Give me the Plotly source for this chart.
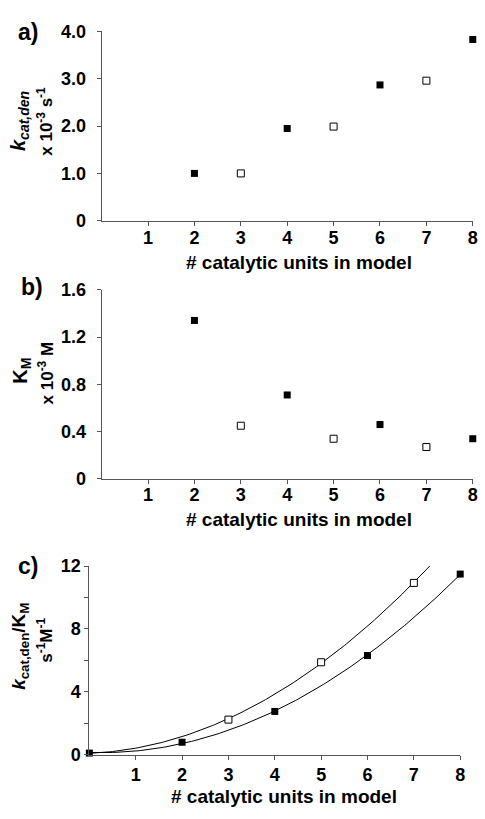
import numpy as np
import plotly.graph_objects as go

# ---------------- data ----------------
x_filled = [2, 4, 6, 8]
x_open = [3, 5, 7]

kcat_filled = [1.00, 1.95, 2.87, 3.83]
kcat_open = [1.00, 1.99, 2.96]

km_filled = [1.34, 0.71, 0.46, 0.34]
km_open = [0.45, 0.34, 0.27]

eff_x_filled = [0, 2, 4, 6, 8]
eff_filled = [0.1, 0.79, 2.75, 6.31, 11.49]
eff_x_open = [0, 3, 5, 7]
eff_open = [0.1, 2.23, 5.88, 10.93]

x_ticks = [1, 2, 3, 4, 5, 6, 7, 8]
ya_ticks = [0, 1, 2, 3, 4]
ya_text = ["0", "1.0", "2.0", "3.0", "4.0"]
yb_ticks = [0, 0.4, 0.8, 1.2, 1.6]
yb_text = ["0", "0.4", "0.8", "1.2", "1.6"]
yc_ticks = [0, 2, 4, 6, 8, 10, 12]
yc_text = ["0", "", "4", "", "8", "", "12"]

# polynomial (order 2) trendlines fitted to the data
fit_f = np.polyfit(eff_x_filled, eff_filled, 2)
fit_o = np.polyfit(eff_x_open, eff_open, 2)
xs = np.linspace(0, 8, 161)

W, H = 485, 819
FONT = "Arial, Liberation Sans, sans-serif"
AX = "#555555"


def px_x(p):
    return p / W


def px_y(p):
    return 1 - p / H


fig = go.Figure()

filled_m = dict(symbol="square", size=7, color="black", line=dict(width=0))
open_m = dict(symbol="square", size=7, color="white", line=dict(width=1, color="black"))

# panel a
fig.add_trace(go.Scatter(x=x_filled, y=kcat_filled, mode="markers", marker=filled_m,
                         xaxis="x", yaxis="y", cliponaxis=False))
fig.add_trace(go.Scatter(x=x_open, y=kcat_open, mode="markers", marker=open_m,
                         xaxis="x", yaxis="y", cliponaxis=False))
# panel b
fig.add_trace(go.Scatter(x=x_filled, y=km_filled, mode="markers", marker=filled_m,
                         xaxis="x2", yaxis="y2", cliponaxis=False))
fig.add_trace(go.Scatter(x=x_open, y=km_open, mode="markers", marker=open_m,
                         xaxis="x2", yaxis="y2", cliponaxis=False))
# panel c curves
fig.add_trace(go.Scatter(x=xs, y=np.polyval(fit_o, xs), mode="lines",
                         line=dict(color="black", width=1), xaxis="x3", yaxis="y3"))
fig.add_trace(go.Scatter(x=xs, y=np.polyval(fit_f, xs), mode="lines",
                         line=dict(color="black", width=1), xaxis="x3", yaxis="y3"))
fig.add_trace(go.Scatter(x=eff_x_filled, y=eff_filled, mode="markers", marker=filled_m,
                         xaxis="x3", yaxis="y3", cliponaxis=False))
fig.add_trace(go.Scatter(x=eff_x_open[1:], y=eff_open[1:], mode="markers", marker=open_m,
                         xaxis="x3", yaxis="y3", cliponaxis=False))

tickfont = dict(family=FONT, size=18, color="black", weight="bold")


def xax(domain, anchor, standoff):
    return dict(domain=domain, anchor=anchor, range=[0, 8], tickvals=x_ticks,
                showline=True, linecolor=AX, linewidth=1, ticks="outside",
                ticklen=4, tickcolor=AX, showgrid=False, zeroline=False,
                tickfont=tickfont, fixedrange=True, ticklabelstandoff=standoff)


def yax(domain, anchor, rng, tv, tt, standoff):
    return dict(domain=domain, anchor=anchor, range=rng, tickvals=tv, ticktext=tt,
                showline=True, linecolor=AX, linewidth=1, ticks="outside",
                ticklen=4, tickcolor=AX, showgrid=False, zeroline=False,
                tickfont=tickfont, fixedrange=True, ticklabelstandoff=standoff)


ab_x = [px_x(102.7), px_x(477.7)]
c_x = [px_x(90.3), px_x(465)]

fig.update_layout(
    width=W, height=H, margin=dict(l=0, r=0, t=0, b=0),
    paper_bgcolor="white", plot_bgcolor="white", showlegend=False,
    xaxis=xax(ab_x, "y", -3),
    yaxis=yax([px_y(216), px_y(22)], "x", [0, 4], ya_ticks, ya_text, 7),
    xaxis2=xax(ab_x, "y2", -5),
    yaxis2=yax([px_y(480.7), px_y(286.7)], "x2", [0, 1.6], yb_ticks, yb_text, 7),
    xaxis3=xax(c_x, "y3", 0),
    yaxis3=yax([px_y(763.3), px_y(570)], "x3", [0, 12], yc_ticks, yc_text, 0),
)

anns = []


def ann(text, x, y, size, angle=0):
    anns.append(dict(text=text, x=px_x(x), y=px_y(y), xref="paper", yref="paper",
                     showarrow=False, textangle=angle, xanchor="center", yanchor="middle",
                     font=dict(family=FONT, size=size, color="black", weight="bold")))


# panel labels
ann("a)", 28, 23, 23)
ann("b)", 32, 284, 23)
ann("c)", 28, 570, 23)

# x titles
xt = "# catalytic units in model"
ann(xt, 302, 259, 19)
ann(xt, 302, 522, 19)
ann(xt, 287, 806, 19)

# y titles
ann("<i>k</i><sub><i>cat,den</i></sub>", 19, 114, 20, -90)
ann("x 10<sup>-3</sup> s<sup>-1</sup>", 46, 114, 17, -90)
ann("K<sub>M</sub>", 22, 370, 20, -90)
ann("x 10<sup>-3</sup> M", 46, 372, 17, -90)
ann("<i>k</i><sub>cat,den</sub>/K<sub>M</sub>", 20, 652, 19, -90)
ann("s<sup>-1</sup>M<sup>-1</sup>", 46, 646, 17, -90)

fig.update_layout(annotations=anns)

fig.write_html("out.html")
